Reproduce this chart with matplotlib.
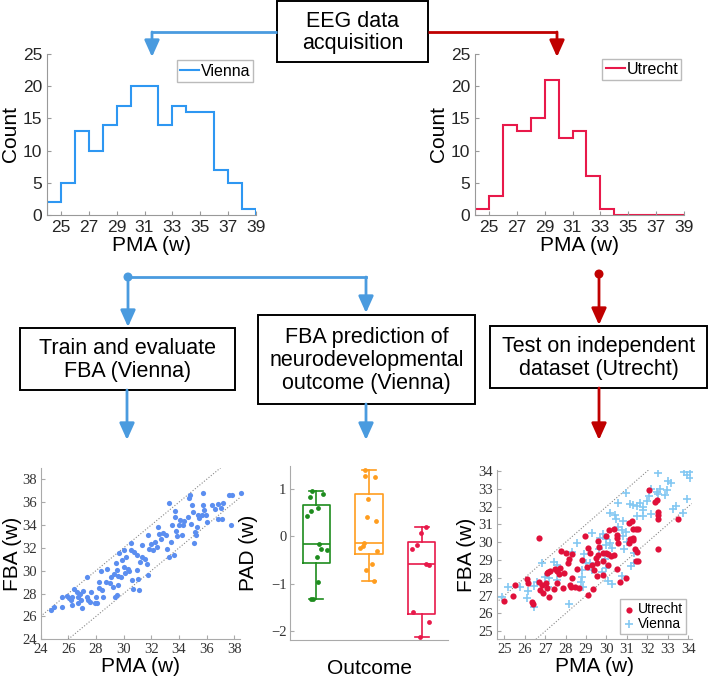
import matplotlib
matplotlib.use('Agg')
import matplotlib.pyplot as plt
from matplotlib.patches import Rectangle, FancyArrowPatch, Circle

plt.rcParams['font.family'] = ['Liberation Sans', 'DejaVu Sans']

W, H = 709, 682

# ---------------- data ----------------
bin_edges = list(range(24, 40))
vienna_counts = [2, 5, 13, 10, 14, 17, 20, 20, 14, 17, 16, 16, 7, 5, 1]
utrecht_counts = [1, 3, 14, 13, 15, 21, 12, 13, 6, 1, 0, 0, 0, 0, 0]
hist_xticks = [25, 27, 29, 31, 33, 35, 37, 39]
hist_yticks = [0, 5, 10, 15, 20, 25]

vienna_pma = [24.73, 24.95, 25.56, 25.55, 25.94, 26.06, 26.23, 26.3, 26.4, 26.3, 26.64, 26.7,
              26.87, 26.9, 26.99, 26.7, 27.1, 27.33, 27.38, 27.4, 27.6, 27.68, 27.9, 28.0,
              28.1, 28.2, 28.24, 28.44, 28.5, 28.4, 28.8, 28.7, 29.0, 29.1, 29.25, 29.3,
              29.35, 29.45, 29.5, 29.6, 29.5, 29.6, 29.7, 29.8, 29.9, 30.0, 30.0, 30.1,
              30.2, 30.3, 30.4, 30.5, 30.55, 30.6, 30.7, 30.75,
              31.09, 31.02, 30.94, 31.18, 31.3, 31.0, 31.35, 31.74, 31.79, 31.67, 31.55, 31.83,
              31.98, 32.15, 32.27, 32.39, 32.5, 32.56, 32.7, 32.87, 33.04, 33.1, 33.28, 33.3,
              33.42, 33.52, 33.66, 33.71, 33.71, 33.76, 33.83, 34.0, 34.07, 34.19, 34.31, 34.38,
              34.67, 34.74, 34.8, 34.87, 34.96, 35.03, 35.1, 35.15, 35.2, 35.27, 35.35, 35.44,
              35.71, 35.63, 35.76, 35.83, 35.93, 36.0, 36.41, 36.6, 36.79, 37.0, 37.2, 37.08,
              36.84, 37.61, 37.85, 37.73, 38.5]
vienna_fba = [26.57, 26.8, 26.86, 27.67, 27.82, 27.59, 27.44, 26.97, 28.37, 27.73, 28.17, 27.7,
              27.94, 27.44, 26.71, 27.15, 28.26, 29.42, 27.73, 27.44, 27.3, 28.14, 27.15, 27.67,
              27.2, 29.04, 28.46, 28.32, 27.67, 29.98, 30.12, 29.02, 28.9, 29.42, 28.55, 29.7,
              27.73, 30.65, 30.07, 29.54, 27.9, 28.75, 31.52, 29.42, 30.94, 31.8, 30.36, 29.77,
              31.23, 30.15, 30.0, 32.4, 31.8, 29.19, 28.37, 31.67,
              28.31, 29.25, 30.03, 30.76, 31.2, 31.35, 32.28, 33.1, 29.66, 30.6, 31.05, 31.87,
              32.37, 31.78, 32.51, 32.07, 33.83, 33.25, 32.8, 33.33, 33.15, 31.87, 35.95, 31.2,
              32.51, 34.03, 31.35, 35.19, 34.7, 33.44, 33.04, 33.97, 34.41, 33.15, 34.03, 34.32,
              34.7, 36.36, 36.6, 34.11, 35.78, 35.13, 32.45, 33.39, 33.15, 33.82, 34.85, 34.61,
              36.83, 34.9, 35.73, 35.28, 34.9, 34.26, 35.73, 35.44, 35.87, 35.49, 35.96, 34.55,
              34.55, 36.65, 36.65, 33.97, 36.8]

utrecht_pma = [25.0, 25.44, 25.52, 26.09, 26.17, 26.37, 26.42, 26.71, 26.7, 26.74, 26.83, 26.9,
               27.02, 27.1, 27.07, 27.15, 27.23, 27.18, 27.45, 27.5, 27.6, 27.58, 27.67, 27.72,
               27.8, 27.89, 27.93, 28.02, 28.1, 28.16, 28.21, 28.26, 28.33, 28.33, 28.46, 28.54,
               28.65, 28.82, 28.95, 29.03, 29.11, 29.19, 29.27, 29.08, 29.33, 29.4, 29.47,
               32.09, 32.37, 32.48, 32.53, 32.53, 32.53, 32.5, 33.51, 31.11, 31.23, 31.28, 31.44,
               31.55, 31.15, 31.31, 31.11, 31.28, 31.39, 31.51, 31.44, 31.55, 30.37, 30.5, 30.53,
               30.14, 30.0, 30.58, 30.37, 30.53, 30.95, 30.66, 29.81, 29.52, 29.6, 29.65, 29.84,
               30.09, 29.97, 29.81, 30.09, 30.2, 29.6, 29.55]
utrecht_fba = [26.7, 27.0, 27.6, 27.94, 27.7, 26.66, 26.53, 30.26, 27.79, 27.32, 27.6, 27.17,
               27.73, 27.45, 28.29, 28.35, 28.41, 26.9, 27.36, 28.48, 28.41, 27.7, 28.22, 28.54,
               29.53, 27.41, 28.26, 29.38, 28.85, 29.04, 27.6, 27.47, 29.34, 27.97, 27.47, 28.48,
               27.41, 29.0, 30.35, 28.63, 29.66, 29.42, 28.73, 27.04, 27.36, 28.44, 29.1,
               32.91, 32.26, 32.37, 31.7, 31.51, 31.32, 29.6, 31.29, 31.06, 31.19, 30.73, 30.73,
               30.73, 30.2, 30.26, 29.98, 30.13, 29.6, 29.45, 28.95, 28.95, 30.73, 30.39, 30.26,
               30.69, 30.35, 29.94, 29.27, 28.48, 28.01, 27.77, 28.14, 28.1, 30.07, 29.75, 29.38,
               29.32, 29.42, 28.95, 28.7, 29.23, 29.27, 28.85]

vienna2_pma = [24.9, 25.16, 25.77, 26.14, 26.13, 26.47, 26.58, 26.47, 26.83, 26.99, 27.15, 27.18,
               27.45, 27.56, 27.6, 28.16, 28.33, 28.54, 28.75, 28.82, 28.86, 28.91, 28.98, 29.19,
               29.27, 28.82, 29.3,
               32.53, 33.79, 34.08, 34.08, 33.92, 33.02, 33.18, 32.97, 32.64, 32.45, 32.16, 32.09,
               32.53, 32.86, 30.98, 32.0, 33.92, 33.27, 33.4, 33.72, 32.16, 31.15, 31.31, 31.48,
               31.64, 31.77, 31.81, 31.81, 31.48, 30.58, 30.41, 30.46, 30.17, 30.82, 30.58, 30.74,
               30.95, 30.82, 31.02, 30.85, 31.34, 31.18, 30.74, 30.17, 30.25, 29.97, 29.84, 29.68,
               29.97, 29.92, 29.65, 29.76, 30.09, 30.25, 29.97, 31.34]
vienna2_fba = [26.94, 27.47, 27.47, 27.28, 26.85, 27.54, 27.79, 26.35, 28.81, 28.07, 27.5, 28.01,
               28.91, 28.72, 27.88, 26.53, 29.47, 29.94, 27.79, 28.44, 27.47, 29.34, 28.81, 28.85,
               30.54, 28.07, 28.44,
               33.91, 33.94, 33.94, 33.63, 33.76, 33.44, 33.31, 32.93, 33.01, 32.82, 33.01, 32.6,
               32.69, 32.63, 32.78, 32.32, 32.45, 31.89, 32.03, 31.66, 31.57, 32.13, 32.07, 32.03,
               32.18, 32.0, 31.81, 31.47, 31.47, 32.18, 31.51, 31.29, 31.66, 31.19, 30.88, 30.69,
               30.58, 30.35, 30.01, 29.6, 28.85, 28.67, 28.1, 29.98, 29.7, 30.2, 30.44, 30.26,
               29.83, 29.04, 29.6, 28.33, 27.82, 27.64, 28.57, 29.42]

# boxplot: PAD per outcome group
box_stats = [
    dict(med=-0.16, q1=-0.57, q3=0.66, whislo=-1.33, whishi=0.97),
    dict(med=-0.13, q1=-0.38, q3=0.89, whislo=-0.95, whishi=1.41),
    dict(med=-0.59, q1=-1.64, q3=-0.12, whislo=-2.13, whishi=0.20),
]
pad_green = [0.97, 0.83, 0.90, 0.60, 0.53, 0.43, -0.16, -0.27, -0.29, -0.44, -0.97, -1.33, -1.32]
jit_green = [-0.08, -0.12, 0.13, 0.03, -0.11, -0.18, 0.06, 0.08, 0.2, 0.01, 0.03, -0.1, -0.06]
pad_orange = [1.41, 1.28, 1.26, 0.79, 0.42, 0.32, -0.13, -0.2, -0.24, -0.30, -0.59, -0.70, -0.95]
jit_orange = [-0.08, -0.07, 0.11, -0.01, -0.03, 0.14, -0.1, -0.11, -0.18, 0.16, 0.06, -0.06, 0.1]
pad_red = [0.20, 0.08, -0.18, -0.27, -0.58, -0.61, -1.59, -1.80, -2.13]
jit_red = [0.09, -0.01, -0.09, -0.19, 0.08, 0.13, -0.16, 0.14, -0.03]

# ---------------- figure ----------------
fig = plt.figure(figsize=(W / 100, H / 100), dpi=100)


def rect(x0, y0, x1, y1):
    # pixel box (top-left origin) -> figure fraction
    return [x0 / W, 1 - y1 / H, (x1 - x0) / W, (y1 - y0) / H]


BLUE = '#4A9BDF'
RED = '#C00000'

# flow chart overlay
fl = fig.add_axes([0, 0, 1, 1])
fl.set_xlim(0, W)
fl.set_ylim(H, 0)
fl.axis('off')

boxes = [
    ((277, 1, 428, 62), 'EEG data\nacquisition'),
    ((20, 328, 235, 390), 'Train and evaluate\nFBA (Vienna)'),
    ((258, 315, 475, 404), 'FBA prediction of\nneurodevelopmental\noutcome (Vienna)'),
    ((490, 326, 707, 388), 'Test on independent\ndataset (Utrecht)'),
]
for (x0, y0, x1, y1), txt in boxes:
    fl.add_patch(Rectangle((x0, y0), x1 - x0, y1 - y0, fill=False, ec='black', lw=1.4))
    fl.text((x0 + x1) / 2, (y0 + y1) / 2 + 1, txt, ha='center', va='center',
            fontsize=15.5, linespacing=1.1)


def arrow(pts, color):
    xs = [p[0] for p in pts]
    ys = [p[1] for p in pts]
    fl.plot(xs[:-1], ys[:-1], color=color, lw=2, solid_capstyle='butt')
    fl.add_patch(FancyArrowPatch(pts[-2], pts[-1], arrowstyle='-|>,head_length=1.0,head_width=0.45',
                                 mutation_scale=10, color=color, lw=2, shrinkA=0, shrinkB=0))


arrow([(277, 32), (152, 32), (152, 57)], BLUE)
arrow([(428, 32), (557, 32), (557, 57)], RED)
fl.plot([128, 366], [277, 277], color=BLUE, lw=2)
arrow([(366, 277), (366, 313)], BLUE)
arrow([(128, 277), (128, 327)], BLUE)
arrow([(599, 274), (599, 325)], RED)
fl.add_patch(Circle((128, 277), 3.8, color=BLUE))
fl.add_patch(Circle((599, 274), 3.8, color=RED))
arrow([(127, 390), (127, 440)], BLUE)
arrow([(366, 404), (366, 440)], BLUE)
arrow([(599, 388), (599, 440)], RED)


def style_hist(ax):
    ax.set_xlim(24, 39)
    ax.set_ylim(0, 25)
    ax.set_xticks(hist_xticks)
    ax.set_yticks(hist_yticks)
    for s in ['top', 'right']:
        ax.spines[s].set_visible(False)
    for s in ['left', 'bottom']:
        ax.spines[s].set_color('#999999')
        ax.spines[s].set_linewidth(0.8)
    ax.tick_params(direction='in', length=3, color='#999999', labelsize=12.5, labelcolor='#262626')
    ax.set_xlabel('PMA (w)', fontsize=15, labelpad=1)
    ax.set_ylabel('Count', fontsize=15, labelpad=2)
    ax.patch.set_alpha(0)


# Vienna histogram
ax1 = fig.add_axes(rect(47, 54, 256, 215))
ax1.stairs(vienna_counts, bin_edges, baseline=0, color='#2E97F2', lw=1.5, label='Vienna')
style_hist(ax1)
ax1.legend(loc='upper left', bbox_to_anchor=(0.62, 0.96), fontsize=11.5, handlelength=1.2,
           handletextpad=0.1, borderpad=0.2, borderaxespad=0, fancybox=False,
           edgecolor='#bbbbbb', framealpha=1)

# Utrecht histogram
ax2 = fig.add_axes(rect(475, 54, 684, 215))
ax2.stairs(utrecht_counts, bin_edges, baseline=0, color='#E8194A', lw=1.5, label='Utrecht')
style_hist(ax2)
ax2.legend(loc='upper left', bbox_to_anchor=(0.61, 0.97), fontsize=11.5, handlelength=1.2,
           handletextpad=0.1, borderpad=0.2, borderaxespad=0, fancybox=False,
           edgecolor='#bbbbbb', framealpha=1)


def style_scatter(ax):
    for s in ['top', 'right']:
        ax.spines[s].set_visible(False)
    for s in ['left', 'bottom']:
        ax.spines[s].set_color('#aaaaaa')
        ax.spines[s].set_linewidth(0.8)
    ax.tick_params(direction='in', length=3, color='#aaaaaa', labelsize=10.5, labelcolor='#333333',
                   pad=2.5)
    for lab in ax.get_xticklabels() + ax.get_yticklabels():
        lab.set_family(['Liberation Serif', 'DejaVu Serif'])
    ax.patch.set_alpha(0)


# Vienna FBA scatter
ax3 = fig.add_axes(rect(40.5, 467.8, 240, 639.3))
ax3.set_xlim(24, 38.4)
ax3.set_ylim(24, 39)
ax3.plot([24, 37], [26, 39], ls=':', color='#888888', lw=0.8)
ax3.plot([26, 38.4], [24, 36.4], ls=':', color='#888888', lw=0.8)
ax3.scatter(vienna_pma, vienna_fba, s=14, color='#5B8EF0', clip_on=False, zorder=3, lw=0)
ax3.set_xticks(range(24, 39, 2))
ax3.set_yticks(range(24, 39, 2))
style_scatter(ax3)
ax3.set_xlabel('PMA (w)', fontsize=15, labelpad=1)
ax3.set_ylabel('FBA (w)', fontsize=15, labelpad=0)

# PAD boxplot
ax4 = fig.add_axes(rect(290, 466, 448, 640))
ax4.set_xlim(0.5, 3.5)
ax4.set_ylim(-2.19, 1.49)
box_cols = ['#1E8C1E', '#FF9D1F', '#E8194A']
for i, (st, col) in enumerate(zip(box_stats, box_cols)):
    ax4.bxp([st], positions=[i + 1], widths=0.52, showfliers=False,
            boxprops=dict(color=col, lw=1.2), medianprops=dict(color=col, lw=1.2),
            whiskerprops=dict(color=col, lw=1.2), capprops=dict(color=col, lw=1.2))
for i, (vals, jit, col) in enumerate([(pad_green, jit_green, box_cols[0]),
                                      (pad_orange, jit_orange, box_cols[1]),
                                      (pad_red, jit_red, box_cols[2])]):
    ax4.scatter([i + 1 + j for j in jit], vals, s=12, color=col, zorder=3, lw=0)
ax4.set_xticks([])
ax4.set_yticks([-2, -1, 0, 1])
style_scatter(ax4)
ax4.set_xlabel('Outcome', fontsize=15, labelpad=14)
ax4.set_ylabel('PAD (w)', fontsize=15, labelpad=9)

# Utrecht FBA scatter
ax5 = fig.add_axes(rect(496.5, 470.1, 691.7, 639.3))
ax5.set_xlim(24.62, 34.17)
ax5.set_ylim(24.55, 34.05)
ax5.plot([24.62, 32.05], [26.62, 34.05], ls=':', color='#888888', lw=0.8)
ax5.plot([26.55, 34.17], [24.55, 32.17], ls=':', color='#888888', lw=0.8)
ax5.scatter(utrecht_pma, utrecht_fba, s=20, color='#E0103A', zorder=3, lw=0, label='Utrecht')
ax5.scatter(vienna2_pma, vienna2_fba, s=30, marker='+', color='#84C8F2', zorder=2, lw=1.2,
            label='Vienna')
ax5.set_xticks(range(25, 35))
ax5.set_yticks(range(25, 35))
style_scatter(ax5)
ax5.set_xlabel('PMA (w)', fontsize=15, labelpad=1)
ax5.set_ylabel('FBA (w)', fontsize=15, labelpad=2)
ax5.legend(loc='lower right', fontsize=10, handlelength=0.8, handletextpad=0.3, borderpad=0.2,
           labelspacing=0.05, fancybox=False, edgecolor='#bbbbbb', framealpha=1,
           borderaxespad=0.4)

fig.savefig('out.png', dpi=100)
